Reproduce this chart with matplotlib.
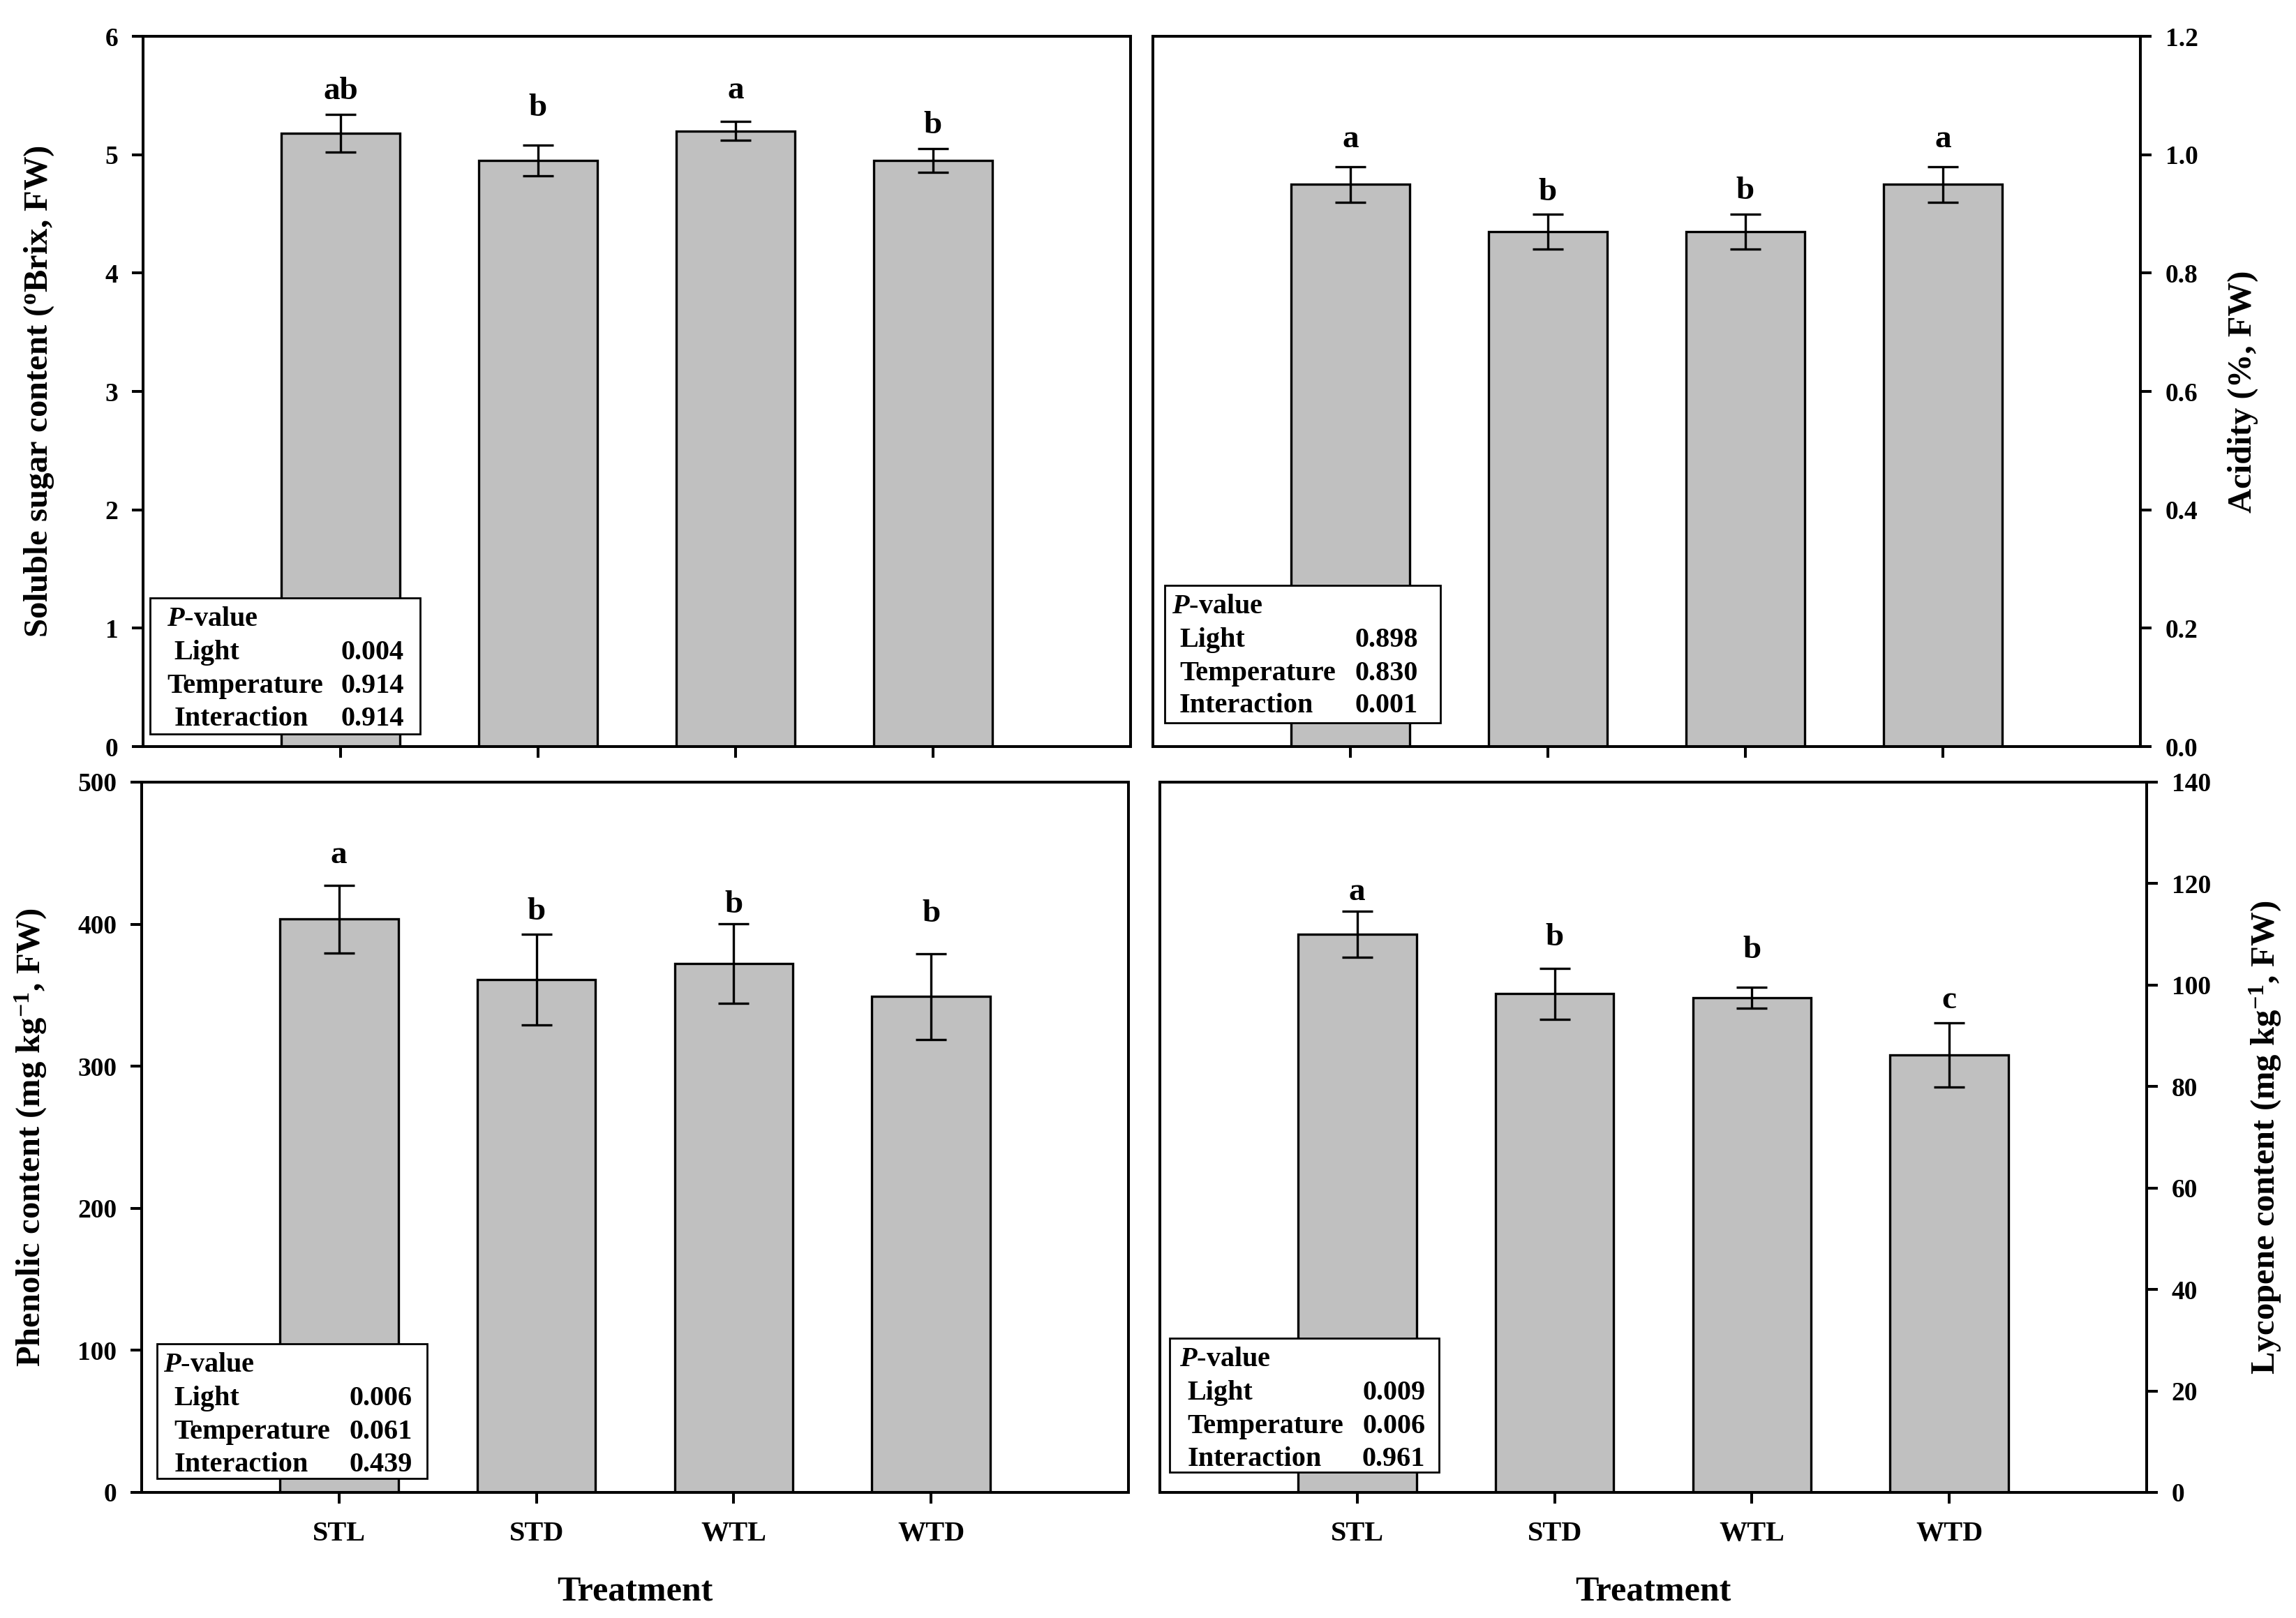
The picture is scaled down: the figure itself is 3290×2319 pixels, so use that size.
import matplotlib
matplotlib.use('Agg')
import matplotlib.pyplot as plt
from matplotlib.patches import Rectangle

plt.rcParams['font.family'] = ['Liberation Serif', 'DejaVu Serif']
plt.rcParams['font.weight'] = 'bold'
plt.rcParams['mathtext.fontset'] = 'custom'
plt.rcParams['mathtext.rm'] = 'Liberation Serif:bold'
plt.rcParams['mathtext.it'] = 'Liberation Serif:italic:bold'
plt.rcParams['mathtext.bf'] = 'Liberation Serif:bold'
plt.rcParams['mathtext.default'] = 'rm'

# ---------------- data ----------------
treatments = ['STL', 'STD', 'WTL', 'WTD']
factors = ['Light', 'Temperature', 'Interaction']

sugar_mean = [5.18, 4.95, 5.20, 4.95]
sugar_err = [0.16, 0.13, 0.08, 0.10]
sugar_letters = ['ab', 'b', 'a', 'b']
sugar_letter_y = [5.47, 5.33, 5.475, 5.18]
sugar_p = ['0.004', '0.914', '0.914']
sugar_ticks = [0, 1, 2, 3, 4, 5, 6]
sugar_ticklabels = ['0', '1', '2', '3', '4', '5', '6']

acid_mean = [0.95, 0.87, 0.87, 0.95]
acid_err = [0.03, 0.03, 0.03, 0.03]
acid_letters = ['a', 'b', 'b', 'a']
acid_letter_y = [1.012, 0.923, 0.925, 1.012]
acid_p = ['0.898', '0.830', '0.001']
acid_ticks = [0.0, 0.2, 0.4, 0.6, 0.8, 1.0, 1.2]
acid_ticklabels = ['0.0', '0.2', '0.4', '0.6', '0.8', '1.0', '1.2']

phenol_mean = [403.5, 361, 372.5, 349]
phenol_err = [24, 32, 28, 30]
phenol_letters = ['a', 'b', 'b', 'b']
phenol_letter_y = [443, 403, 408, 402]
phenol_p = ['0.006', '0.061', '0.439']
phenol_ticks = [0, 100, 200, 300, 400, 500]
phenol_ticklabels = ['0', '100', '200', '300', '400', '500']

lyco_mean = [110, 98.3, 97.5, 86.2]
lyco_err = [4.5, 5.0, 2.1, 6.3]
lyco_letters = ['a', 'b', 'b', 'c']
lyco_letter_y = [116.7, 107.8, 105.3, 95.5]
lyco_p = ['0.009', '0.006', '0.961']
lyco_ticks = [0, 20, 40, 60, 80, 100, 120, 140]
lyco_ticklabels = ['0', '20', '40', '60', '80', '100', '120', '140']

# ---------------- figure ----------------
W, H = 3290, 2319
DPI = 200
fig = plt.figure(figsize=(W / DPI, H / DPI), dpi=DPI)

def frac(l, t, r, b):
    return [l / W, 1 - b / H, (r - l) / W, (b - t) / H]

panels = [
    dict(rect=frac(205, 52, 1620, 1070), mean=sugar_mean, err=sugar_err,
         letters=sugar_letters, ly=sugar_letter_y, p=sugar_p,
         ticks=sugar_ticks, tl=sugar_ticklabels,
         ylabel='Soluble sugar content ($^{\\mathrm{o}}$Brix, FW)',
         side='left', bottom=False, lab_x=-0.088,
         box=(0.0074, 0.018, 0.2805, 0.209), ind=(0.0166, 0.024, 0.0166, 0.024), vr=0.0165),
    dict(rect=frac(1652, 52, 3067, 1070), mean=acid_mean, err=acid_err,
         letters=acid_letters, ly=acid_letter_y, p=acid_p,
         ticks=acid_ticks, tl=acid_ticklabels,
         ylabel='Acidity (%, FW)',
         side='right', bottom=False, lab_x=1.088,
         box=(0.0119, 0.033, 0.2914, 0.227), ind=(0.007, 0.015, 0.015, 0.015), vr=0.023),
    dict(rect=frac(203, 1121, 1617, 2139), mean=phenol_mean, err=phenol_err,
         letters=phenol_letters, ly=phenol_letter_y, p=phenol_p,
         ticks=phenol_ticks, tl=phenol_ticklabels,
         ylabel='Phenolic content (mg kg$^{-1}$, FW)',
         side='left', bottom=True, lab_x=-0.094,
         box=(0.0156, 0.020, 0.289, 0.209), ind=(0.006, 0.0174, 0.0174, 0.0174), vr=0.015),
    dict(rect=frac(1662, 1121, 3076, 2139), mean=lyco_mean, err=lyco_err,
         letters=lyco_letters, ly=lyco_letter_y, p=lyco_p,
         ticks=lyco_ticks, tl=lyco_ticklabels,
         ylabel='Lycopene content (mg kg$^{-1}$, FW)',
         side='right', bottom=True, lab_x=1.102,
         box=(0.0097, 0.0287, 0.283, 0.217), ind=(0.010, 0.018, 0.018, 0.018), vr=0.014),
]

x = list(range(1, len(treatments) + 1))
row_off = [0.030, 0.077, 0.124, 0.170]
BOXFS = 14.5

for pnl in panels:
    ax = fig.add_axes(pnl['rect'])
    ax.bar(x, pnl['mean'], width=0.6, color='#C0C0C0', edgecolor='black',
           linewidth=1.2, zorder=2)
    ax.errorbar(x, pnl['mean'], yerr=pnl['err'], fmt='none', ecolor='black',
                elinewidth=1.2, capsize=8, capthick=1.2, zorder=3)
    for xi, let, yy in zip(x, pnl['letters'], pnl['ly']):
        ax.text(xi, yy, let, ha='center', va='baseline', fontsize=17,
                fontweight='bold', zorder=5)
    ax.set_xlim(0, 5)
    ax.set_ylim(pnl['ticks'][0], pnl['ticks'][-1])
    ax.set_yticks(pnl['ticks'])
    ax.set_yticklabels(pnl['tl'])
    ax.set_xticks(x)
    if pnl['bottom']:
        ax.set_xticklabels(treatments)
        ax.set_xlabel('Treatment', fontsize=18, fontweight='bold')
        ax.xaxis.set_label_coords(0.5, -0.117)
    else:
        ax.set_xticklabels([])
    for s in ax.spines.values():
        s.set_linewidth(1.45)
    ax.tick_params(axis='both', direction='out', length=5.8, width=1.45,
                   labelsize=13.5)
    ax.tick_params(axis='x', pad=9, labelsize=14.5)
    ax.tick_params(axis='y', pad=7)
    if pnl['side'] == 'right':
        ax.yaxis.tick_right()
        ax.yaxis.set_label_position('right')
    ax.set_ylabel(pnl['ylabel'], fontsize=17.5, fontweight='bold')
    ax.yaxis.set_label_coords(pnl['lab_x'], 0.5)

    # P-value box
    bx0, by0, bx1, by1 = pnl['box']
    ax.add_patch(Rectangle((bx0, by0), bx1 - bx0, by1 - by0, transform=ax.transAxes,
                           facecolor='white', edgecolor='black', linewidth=1.0,
                           zorder=6))
    ax.text(bx0 + pnl['ind'][0], by1 - row_off[0], '$\\mathit{P}$-value',
            transform=ax.transAxes, ha='left', va='center', fontsize=BOXFS,
            fontweight='bold', zorder=7)
    for i, (fac, pv) in enumerate(zip(factors, pnl['p'])):
        yy = by1 - row_off[i + 1]
        ax.text(bx0 + pnl['ind'][i + 1], yy, fac, transform=ax.transAxes,
                ha='left', va='center', fontsize=BOXFS, fontweight='bold', zorder=7)
        ax.text(bx1 - pnl['vr'], yy, pv, transform=ax.transAxes,
                ha='right', va='center', fontsize=BOXFS, fontweight='bold', zorder=7)

fig.savefig('out.png', dpi=DPI)
